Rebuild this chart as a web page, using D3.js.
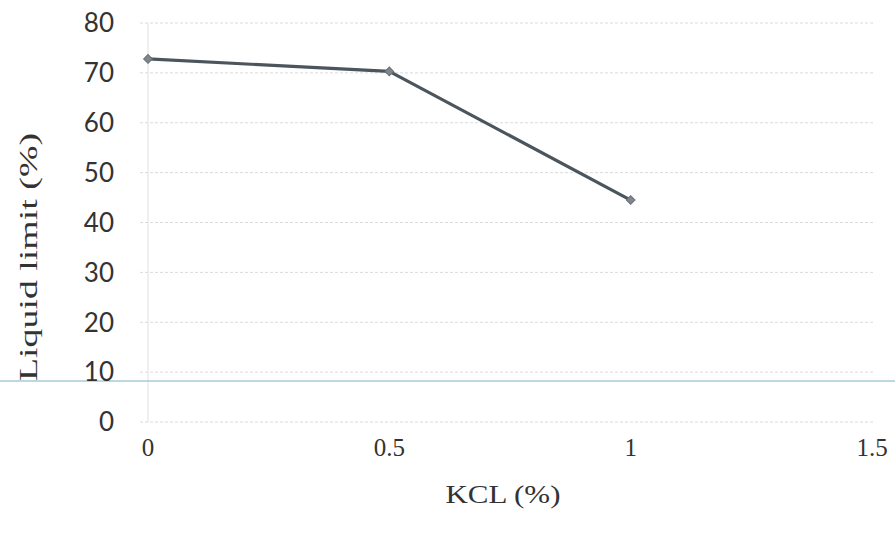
<!DOCTYPE html>
<html>
<head>
<meta charset="utf-8">
<script src="https://cdn.jsdelivr.net/npm/d3@7"></script>
<style>
  html, body { margin: 0; padding: 0; background: #fff; }
  svg { display: block; }
</style>
</head>
<body>
<svg id="chart" width="895" height="538"></svg>
<script>
// KCL content (%) and measured liquid limit (%)
const kclValues = [0, 0.5, 1];
const liquidLimit = [72.8, 70.3, 44.5];
const xTicks = [0, 0.5, 1, 1.5];
const yTicks = [0, 10, 20, 30, 40, 50, 60, 70, 80];

const svg = d3.select("#chart");
const W = 895, H = 538;
const serif = "'Liberation Serif', 'DejaVu Serif', serif";

const x = d3.scaleLinear().domain([0, 1.5]).range([148, 872]);
const y = d3.scaleLinear().domain([0, 80]).range([422, 23]);

// horizontal gridlines
svg.append("g")
  .selectAll("line")
  .data(yTicks)
  .join("line")
  .attr("x1", x(0) - 8)
  .attr("x2", W - 22)
  .attr("y1", d => y(d))
  .attr("y2", d => y(d))
  .attr("stroke", "#dadada")
  .attr("stroke-width", 1)
  .attr("stroke-dasharray", "3,2");

// vertical axis line
svg.append("line")
  .attr("x1", x(0)).attr("x2", x(0))
  .attr("y1", y(80)).attr("y2", y(0))
  .attr("stroke", "#e0e0e0")
  .attr("stroke-width", 1);

// faint blue rule across the page
svg.append("line")
  .attr("x1", 0).attr("x2", W)
  .attr("y1", 381).attr("y2", 381)
  .attr("stroke", "#a9cbd8")
  .attr("stroke-width", 1.5);

// y tick labels
svg.append("g")
  .selectAll("text")
  .data(yTicks)
  .join("text")
  .attr("x", 114)
  .attr("y", d => y(d))
  .attr("dy", "0.36em")
  .attr("text-anchor", "end")
  .attr("font-family", "Lato, 'Open Sans', sans-serif")
  .attr("font-size", 26)
  .attr("fill", "#333")
  .text(d => d);

// x tick labels
svg.append("g")
  .selectAll("text")
  .data(xTicks)
  .join("text")
  .attr("x", d => x(d))
  .attr("y", 456)
  .attr("text-anchor", "middle")
  .attr("font-family", serif)
  .attr("font-size", 25)
  .attr("fill", "#333")
  .text(d => d);

// axis titles
svg.append("text")
  .attr("x", 503)
  .attr("y", 503)
  .attr("text-anchor", "middle")
  .attr("font-family", serif)
  .attr("font-size", 26)
  .attr("textLength", 115)
  .attr("lengthAdjust", "spacingAndGlyphs")
  .attr("fill", "#333")
  .text("KCL (%)");

svg.append("text")
  .attr("transform", "translate(37,257) rotate(-90)")
  .attr("text-anchor", "middle")
  .attr("font-family", serif)
  .attr("font-size", 26)
  .attr("textLength", 248)
  .attr("lengthAdjust", "spacingAndGlyphs")
  .attr("fill", "#333")
  .text("Liquid limit (%)");

// data line
const pts = kclValues.map((k, i) => [k, liquidLimit[i]]);
svg.append("path")
  .datum(pts)
  .attr("fill", "none")
  .attr("stroke", "#4b555d")
  .attr("stroke-width", 3.2)
  .attr("stroke-linejoin", "round")
  .attr("d", d3.line().x(d => x(d[0])).y(d => y(d[1])));

// diamond markers
svg.append("g")
  .selectAll("path")
  .data(pts)
  .join("path")
  .attr("transform", d => `translate(${x(d[0])},${y(d[1])}) rotate(45)`)
  .attr("d", d3.symbol().type(d3.symbolSquare).size(38)())
  .attr("fill", "#80868c")
  .attr("stroke", "#6b7178")
  .attr("stroke-width", 1);
</script>
</body>
</html>
